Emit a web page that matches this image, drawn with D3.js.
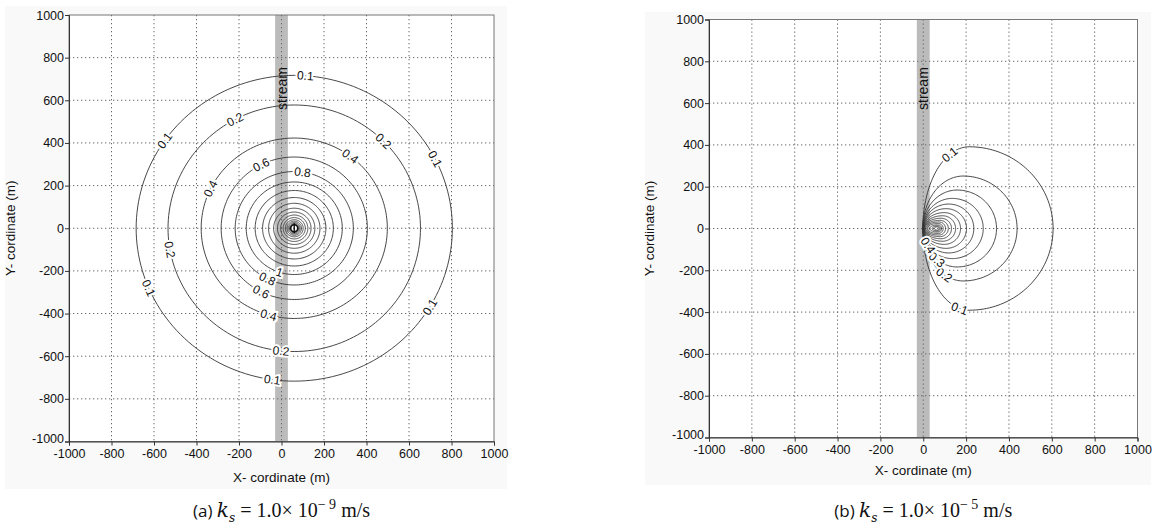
<!DOCTYPE html>
<html>
<head>
<meta charset="utf-8">
<script src="https://cdn.jsdelivr.net/npm/d3@7"></script>
<style>
  body { margin: 0; background: #fff; }
  svg { display: block; }
  text { font-family: "Liberation Sans", Arial, sans-serif; }
</style>
</head>
<body>
<svg id="chart" width="1160" height="529"></svg>
<script>
// axis ticks shared by both panels (m)
const tickVals = [-1000, -800, -600, -400, -200, 0, 200, 400, 600, 800, 1000];
const streamBand = [-30, 30];

// panel (a): near-circular drawdown contours around the well
const wellA = [60, 0];
const levelsA = [0.1, 0.2, 0.4, 0.6, 0.8, 1.0, 1.2, 1.4, 1.6, 1.8, 2.0, 2.2, 2.4, 2.6, 2.8, 3.0, 3.2, 3.4];
const rxA = [744, 594, 438, 344, 278, 226, 184, 149, 121, 97, 79, 64, 52, 42, 34, 28, 23, 19];
const ryA = [717, 578, 423, 334, 266, 217, 177, 144, 117, 94, 76, 62, 50, 40, 33, 27, 22, 18];
const labelLevelA = [0.1, 0.2, 0.1, 0.2, 0.1, 0.4, 0.6, 0.8, 0.4, 0.2, 0.1, 1.0, 0.8, 0.6, 0.4, 0.2, 0.1, 0.1];
const labelAngleA = [86, 118, 145, 45, 27, 53, 117, 82, 154, 190, 203, 252, 243, 243, 254, 264, 262, 329];

// panel (b): contours squeezed against the stream
const levelsB = [0.1, 0.2, 0.3, 0.4, 0.5, 0.6, 0.7, 0.8, 0.9, 1.0, 1.1, 1.2, 1.3, 1.4, 1.5];
const xLeftB = [-2, -2, -2, -1, 0, 1, 2, 3, 4, 6, 10, 18, 30, 42, 52];
const xMidB = [215, 187, 158, 136, 119, 107, 98, 90, 83, 78, 74, 70, 68, 66, 65];
const xRightB = [606, 438, 342, 280, 236, 202, 174, 151, 132, 117, 104, 93, 86, 80, 75];
const halfHB = [391, 251, 184, 144, 117, 95, 76, 61, 49, 39, 31, 24, 17, 12, 8];
const labelLevelB = [0.1, 0.1, 0.2, 0.3, 0.4];
const labelAngleB = [115, 258, 242, 234, 214];

const svg = d3.select("#chart");

function shapeA(i, a) {
  const t = a * Math.PI / 180;
  return [wellA[0] + rxA[i] * Math.cos(t), wellA[1] + ryA[i] * Math.sin(t)];
}

function shapeB(i, a) {
  const t = a * Math.PI / 180;
  const c = Math.cos(t);
  const w = c >= 0 ? xRightB[i] - xMidB[i] : xMidB[i] - xLeftB[i];
  return [xMidB[i] + w * c, halfHB[i] * Math.sin(t)];
}

function drawPanel(cfg) {
  const g = svg.append("g");
  const x = d3.scaleLinear().domain([-1000, 1000]).range(cfg.xr);
  const y = d3.scaleLinear().domain([-1000, 1000]).range(cfg.yr);

  g.append("rect")
    .attr("x", cfg.box[0]).attr("y", cfg.box[1])
    .attr("width", cfg.box[2]).attr("height", cfg.box[3])
    .attr("fill", "#f9f9f9");
  g.append("rect")
    .attr("x", x(-1000)).attr("y", y(1000))
    .attr("width", x(1000) - x(-1000)).attr("height", y(-1000) - y(1000))
    .attr("fill", "#fff");

  // stream
  g.append("rect")
    .attr("x", x(streamBand[0])).attr("y", y(1000))
    .attr("width", x(streamBand[1]) - x(streamBand[0]))
    .attr("height", y(-1000) - y(1000))
    .attr("fill", "#bbbbbb");

  // dotted grid
  const inner = tickVals.slice(1, -1);
  g.selectAll(".gx").data(inner).join("line")
    .attr("x1", d => x(d)).attr("x2", d => x(d))
    .attr("y1", y(1000)).attr("y2", y(-1000))
    .attr("stroke", "#666").attr("stroke-width", 1)
    .attr("stroke-dasharray", "1.3,2.7");
  g.selectAll(".gy").data(inner).join("line")
    .attr("y1", d => y(d)).attr("y2", d => y(d))
    .attr("x1", x(-1000)).attr("x2", x(1000))
    .attr("stroke", "#666").attr("stroke-width", 1)
    .attr("stroke-dasharray", "1.3,2.7");

  g.append("text")
    .attr("transform", `translate(${x(0) + 5},${y(cfg.streamY)}) rotate(-90)`)
    .attr("font-size", 14).attr("fill", "#111")
    .text("stream");

  // contours
  const line = d3.line().x(d => x(d[0])).y(d => y(d[1]));
  const angles = d3.range(0, 361, 2);
  g.selectAll(".ct").data(cfg.levels).join("path")
    .attr("d", (d, i) => line(angles.map(a => cfg.shape(i, a))))
    .attr("fill", "none").attr("stroke", "#333").attr("stroke-width", 0.9);

  // contour labels
  cfg.labelLevels.forEach((lv, k) => {
    const i = cfg.levels.indexOf(lv);
    const a = cfg.labelAngles[k];
    const p = cfg.shape(i, a), p1 = cfg.shape(i, a - 1), p2 = cfg.shape(i, a + 1);
    let rot = Math.atan2(y(p2[1]) - y(p1[1]), x(p2[0]) - x(p1[0])) * 180 / Math.PI;
    if (rot > 90) rot -= 180;
    if (rot < -90) rot += 180;
    g.append("text")
      .attr("transform", `translate(${x(p[0])},${y(p[1])}) rotate(${rot})`)
      .attr("text-anchor", "middle").attr("dy", "0.35em")
      .attr("font-size", 12).attr("fill", "#111")
      .attr("stroke", "#fff").attr("stroke-width", 4).attr("paint-order", "stroke")
      .text(lv === 1 ? "1" : lv);
  });

  if (cfg.marker) {
    g.append("circle").attr("cx", x(wellA[0])).attr("cy", y(wellA[1])).attr("r", 3.5)
      .attr("fill", "none").attr("stroke", "#111").attr("stroke-width", 1.6);
    g.append("line").attr("x1", x(wellA[0])).attr("x2", x(wellA[0]))
      .attr("y1", y(wellA[1]) - 5).attr("y2", y(wellA[1]) + 5)
      .attr("stroke", "#111").attr("stroke-width", 1.4);
  }

  // frame
  g.append("rect")
    .attr("x", x(-1000)).attr("y", y(1000))
    .attr("width", x(1000) - x(-1000)).attr("height", y(-1000) - y(1000))
    .attr("fill", "none").attr("stroke", "#777").attr("stroke-width", 1);

  const xAxis = d3.axisBottom(x).tickValues(tickVals).tickSize(4).tickPadding(4);
  const yAxis = d3.axisLeft(y).tickValues(tickVals).tickSize(4).tickPadding(1);
  const gx = g.append("g").attr("transform", `translate(0,${y(-1000)})`).call(xAxis);
  const gy = g.append("g").attr("transform", `translate(${x(-1000)},0)`).call(yAxis);
  [gx, gy].forEach(ax => {
    ax.select(".domain").attr("stroke", "#333");
    ax.selectAll(".tick line").attr("stroke", "#333");
    ax.selectAll(".tick text").attr("font-size", 12.5).attr("fill", "#111")
      .attr("font-family", "'Liberation Sans', Arial, sans-serif")
      .text(d => String(d));
  });
  // the lowest y label sits just above the x labels
  gy.selectAll(".tick text").filter(d => d === -1000).attr("dy", "0.05em");

  g.append("text")
    .attr("x", x(0)).attr("y", cfg.xTitleY)
    .attr("text-anchor", "middle").attr("font-size", 13.5).attr("fill", "#111")
    .text("X- cordinate (m)");
  g.append("text")
    .attr("transform", `translate(${cfg.yTitleX},${y(0)}) rotate(-90)`)
    .attr("text-anchor", "middle").attr("font-size", 13.5).attr("fill", "#111")
    .text("Y- cordinate (m)");

  // caption
  const cap = g.append("text")
    .attr("x", x(0)).attr("y", 517).attr("text-anchor", "middle")
    .attr("font-size", 20).attr("fill", "#111");
  cap.append("tspan").attr("font-family", "'Open Sans', sans-serif").attr("font-size", 17).text(cfg.tag + " ");
  cap.append("tspan").attr("font-family", "'DejaVu Serif', serif").attr("font-style", "italic").text("k");
  cap.append("tspan").attr("font-family", "'DejaVu Serif', serif").attr("font-style", "italic")
    .attr("font-size", 12).attr("dy", 5).text("s");
  cap.append("tspan").attr("font-family", "'Liberation Serif', serif").attr("dy", -5).text(" = 1.0× 10");
  cap.append("tspan").attr("font-family", "'Liberation Serif', serif").attr("font-size", 14)
    .attr("dy", -8).text("− " + cfg.exp);
  cap.append("tspan").attr("font-family", "'Liberation Serif', serif").attr("dy", 8).text(" m/s");
}

drawPanel({
  xr: [69, 494], yr: [441.5, 15], box: [5, 6, 502, 483],
  levels: levelsA, shape: shapeA,
  labelLevels: labelLevelA, labelAngles: labelAngleA,
  streamY: 555, marker: true,
  xTitleY: 482, yTitleX: 15, tag: "(a)", exp: "9"
});

drawPanel({
  xr: [709, 1137.5], yr: [437.5, 19.5], box: [645, 12, 506, 473],
  levels: levelsB, shape: shapeB,
  labelLevels: labelLevelB, labelAngles: labelAngleB,
  streamY: 567, marker: false,
  xTitleY: 475, yTitleX: 654, tag: "(b)", exp: "5"
});
</script>
</body>
</html>
